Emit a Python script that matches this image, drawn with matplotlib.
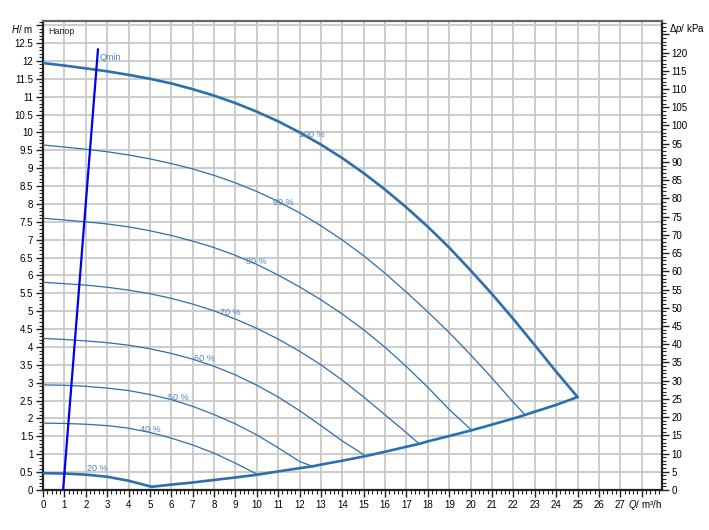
import matplotlib
matplotlib.use("Agg")
import matplotlib.pyplot as plt
from matplotlib.ticker import MultipleLocator, FixedLocator

plt.rcParams['font.family'] = ['Liberation Sans', 'DejaVu Sans']
plt.rcParams['mathtext.fontset'] = 'custom'
plt.rcParams['mathtext.rm'] = 'Liberation Sans'
plt.rcParams['mathtext.it'] = 'Liberation Sans:italic'

# ---------------- data ----------------
q100 = [0, 1, 2, 3, 4, 5, 6, 7, 8, 9, 10, 11, 12, 13, 14, 15, 16, 17, 18, 19, 20, 21, 22, 23, 24, 25]
h100 = [11.94, 11.87, 11.79, 11.71, 11.61, 11.50, 11.37, 11.21, 11.03, 10.82, 10.58, 10.31, 10.00, 9.66,
        9.28, 8.86, 8.40, 7.90, 7.36, 6.78, 6.14, 5.48, 4.78, 4.05, 3.31, 2.60]

q90 = [0, 1, 2, 3, 4, 5, 6, 7, 8, 9, 10, 11, 12, 13, 14, 15, 16, 17, 18, 19, 20, 21, 22, 22.55]
h90 = [9.65, 9.59, 9.53, 9.46, 9.37, 9.26, 9.13, 8.98, 8.80, 8.59, 8.35, 8.07, 7.75, 7.39, 6.99,
       6.55, 6.06, 5.53, 4.98, 4.40, 3.78, 3.13, 2.45, 2.10]

q80 = [0, 1, 2, 3, 4, 5, 6, 7, 8, 9, 10, 11, 12, 13, 14, 15, 16, 17, 18, 19, 20.05]
h80 = [7.60, 7.55, 7.50, 7.44, 7.36, 7.25, 7.12, 6.96, 6.78, 6.56, 6.31, 6.01, 5.68, 5.32, 4.92,
       4.48, 3.99, 3.45, 2.87, 2.25, 1.67]

q70 = [0, 1, 2, 3, 4, 5, 6, 7, 8, 9, 10, 11, 12, 13, 14, 15, 16, 17, 17.6]
h70 = [5.81, 5.77, 5.73, 5.67, 5.59, 5.49, 5.36, 5.20, 5.01, 4.78, 4.52, 4.22, 3.88, 3.50, 3.07,
       2.60, 2.10, 1.60, 1.29]

q60 = [0, 1, 2, 3, 4, 5, 6, 7, 8, 9, 10, 11, 12, 13, 14, 15.1]
h60 = [4.24, 4.21, 4.17, 4.12, 4.05, 3.95, 3.82, 3.66, 3.46, 3.22, 2.93, 2.60, 2.22, 1.80, 1.37, 0.95]

q50 = [0, 1, 2, 3, 4, 5, 6, 7, 8, 9, 10, 11, 12, 12.6]
h50 = [2.94, 2.93, 2.90, 2.85, 2.78, 2.67, 2.53, 2.34, 2.11, 1.85, 1.54, 1.18, 0.80, 0.66]

q40 = [0, 1, 2, 3, 4, 5, 6, 7, 8, 9, 10.05]
h40 = [1.87, 1.86, 1.84, 1.80, 1.73, 1.61, 1.45, 1.26, 1.03, 0.75, 0.43]

q20 = [0, 1, 2, 3, 4, 5.08]
h20 = [0.47, 0.46, 0.43, 0.37, 0.26, 0.09]

qmin_curve = [5.08, 6, 7, 8, 9, 10.05, 11, 12, 12.6, 13, 14, 15.1, 16, 17, 17.6, 18, 19, 20.05,
              21, 22, 22.55, 23, 24, 25]
hmin_curve = [0.09, 0.15, 0.21, 0.28, 0.35, 0.43, 0.52, 0.61, 0.66, 0.71, 0.82, 0.95, 1.07, 1.21,
              1.29, 1.36, 1.51, 1.67, 1.83, 2.00, 2.10, 2.19, 2.38, 2.60]

qmin_line_q = [0.94, 2.57]
qmin_line_h = [0.0, 12.32]

label_texts = ["100 %", "90 %", "80 %", "70 %", "60 %", "50 %", "40 %", "20 %"]
label_q = [12.55, 11.24, 9.97, 8.75, 7.54, 6.32, 5.0, 2.53]
label_h = [9.93, 8.05, 6.38, 4.95, 3.69, 2.60, 1.70, 0.59]

x_tick_labels = [str(i) for i in range(28)]
kpa_per_m = 9.81

# ---------------- figure ----------------
W, H = 709, 530
fig = plt.figure(figsize=(W / 100, H / 100), dpi=100)
ax = fig.add_axes([43 / W, 40 / H, 619 / W, 469.5 / H])

xmax, ymax = 28.95, 13.13
ax.set_xlim(0, xmax)
ax.set_ylim(0, ymax)

curve_c = '#2c6fad'
label_c = '#4f86c0'

ax.plot(q100, h100, color=curve_c, lw=1.9, zorder=4, solid_capstyle='round', solid_joinstyle='round')
for q, h in [(q90, h90), (q80, h80), (q70, h70), (q60, h60), (q50, h50), (q40, h40)]:
    ax.plot(q, h, color=curve_c, lw=0.9, zorder=4, solid_joinstyle='round')
ax.plot(q20, h20, color=curve_c, lw=1.9, zorder=4, solid_joinstyle='round')
ax.plot(qmin_curve, hmin_curve, color=curve_c, lw=1.9, zorder=4, solid_capstyle='round',
        solid_joinstyle='round')
ax.plot(qmin_line_q, qmin_line_h, color='#0000ee', lw=1.6, zorder=5)

for t, q, h in zip(label_texts, label_q, label_h):
    ax.text(q, h, t, color=label_c, fontsize=6.5, ha='center', va='center', zorder=6)
ax.text(2.67, 12.1, "Qmin", color=label_c, fontsize=6.5, ha='left', va='center', zorder=6)
ax.text(0.25, 12.82, "Напор", color='#222222', fontsize=6.5, ha='left', va='center')

# ticks and grid
ax.xaxis.set_major_locator(FixedLocator(range(0, 29)))
ax.xaxis.set_minor_locator(MultipleLocator(0.2))
ax.set_xticklabels(x_tick_labels + [""])
ax.yaxis.set_major_locator(MultipleLocator(0.5))
ax.yaxis.set_minor_locator(MultipleLocator(0.1))
ax.grid(True, which='major', color='#c8c8c8', lw=1.3, zorder=0)
ax.set_axisbelow(True)

def ylab(v, pos):
    return f"{v:g}" if v <= 12.5 else ""
ax.yaxis.set_major_formatter(plt.FuncFormatter(ylab))

ax.tick_params(axis='both', which='major', labelsize=7, length=5, width=1, color='#222222', pad=2)
ax.tick_params(axis='both', which='minor', length=3, width=0.8, color='#222222')

for s in ['left', 'bottom', 'right']:
    ax.spines[s].set_linewidth(1.6)
    ax.spines[s].set_color('#222222')
ax.spines['top'].set_linewidth(1.6)
ax.spines['top'].set_color('#666666')

# right axis (kPa)
ax2 = ax.twinx()
ax2.set_ylim(0, ymax * kpa_per_m)
ax2.yaxis.set_major_locator(MultipleLocator(5))
ax2.yaxis.set_minor_locator(MultipleLocator(1))
ax2.yaxis.set_major_formatter(plt.FuncFormatter(lambda v, p: f"{v:g}" if v <= 120 else ""))
ax2.tick_params(axis='y', which='major', labelsize=7, length=5, width=1, color='#222222', pad=2)
ax2.tick_params(axis='y', which='minor', length=3, width=0.8, color='#222222')
for s in ax2.spines.values():
    s.set_visible(False)

# axis titles
fig.text(33 / W, 1 - 29 / H, r"$\it{H}$/ m", fontsize=7, ha='right', va='center')
fig.text(669 / W, 1 - 29 / H, r"Δ$\it{p}$/ kPa", fontsize=7, ha='left', va='center')
fig.text(645 / W, 1 - 505 / H, r"$\it{Q}$/ m³/h", fontsize=7, ha='center', va='center')

fig.savefig("out.png", dpi=100)
